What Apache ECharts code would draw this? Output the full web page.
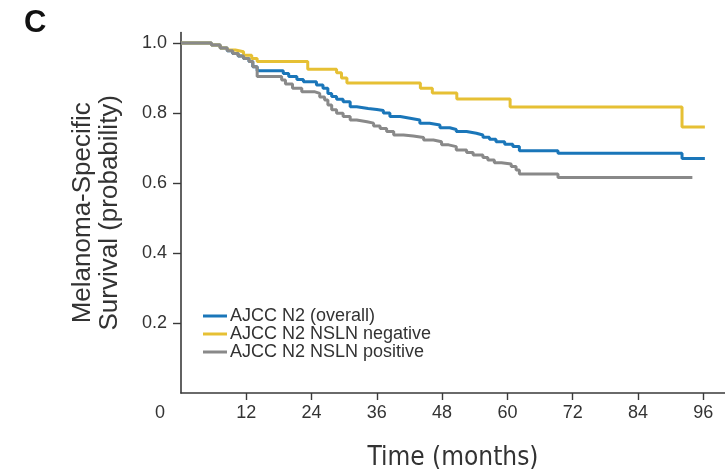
<!DOCTYPE html>
<html>
<head>
<meta charset="utf-8">
<script src="https://cdn.jsdelivr.net/npm/echarts@6/dist/echarts.min.js"></script>
<style>html,body{margin:0;padding:0;background:#fff}#c{width:725px;height:469px}</style>
</head>
<body>
<div id="c"></div>
<script>
// Kaplan-Meier step data (time in months, survival probability)
const tOverall = [0, 5.6, 7.2, 8.5, 9.5, 10.5, 11.5, 12.5, 13.2, 14, 18.8, 19.8, 21.3, 22.5, 24.9, 26.1, 27, 27.7, 28.6, 29.8, 31.1, 32.3, 34.4, 36, 37.2, 38.4, 40.3, 42.1, 43.9, 45.7, 47.6, 49.4, 50.6, 52.5, 54.3, 55.5, 56.7, 57.9, 59.5, 61, 62.2, 69.3, 92.1, 96.3];
const sOverall = [1.0, 0.994, 0.986, 0.978, 0.97, 0.963, 0.956, 0.947, 0.932, 0.921, 0.913, 0.904, 0.896, 0.889, 0.88, 0.871, 0.856, 0.847, 0.839, 0.832, 0.818, 0.813, 0.81, 0.807, 0.8, 0.79, 0.785, 0.78, 0.771, 0.766, 0.758, 0.753, 0.747, 0.742, 0.737, 0.731, 0.725, 0.718, 0.711, 0.704, 0.692, 0.685, 0.67, 0.67];

const tNeg = [0, 5.6, 7.2, 8.5, 10, 11.5, 13, 14, 23.3, 28.6, 29.5, 30.5, 44, 46.2, 50.7, 60.5, 92.1, 96.3];
const sNeg = [1.0, 0.994, 0.986, 0.98, 0.975, 0.965, 0.956, 0.947, 0.925, 0.915, 0.9, 0.886, 0.871, 0.857, 0.84, 0.817, 0.76, 0.76];

const tPos = [0, 5.6, 7.2, 8.5, 9.5, 10.5, 11.5, 12.5, 13.2, 14, 18.5, 19.2, 20.5, 22.2, 24.5, 25.5, 26.4, 27, 27.7, 28.6, 29.8, 31.1, 32.3, 34.2, 35.4, 36.6, 37.8, 39.1, 40.9, 42.7, 44.6, 46.4, 47.9, 49.2, 50.6, 52.5, 53.7, 55.5, 56.4, 57.6, 58.9, 60.7, 61.6, 62.2, 69.3, 94];
const sPos = [1.0, 0.994, 0.986, 0.978, 0.97, 0.963, 0.956, 0.947, 0.932, 0.904, 0.894, 0.883, 0.871, 0.861, 0.856, 0.846, 0.837, 0.823, 0.809, 0.799, 0.79, 0.78, 0.775, 0.771, 0.763, 0.756, 0.747, 0.737, 0.734, 0.73, 0.723, 0.718, 0.709, 0.704, 0.694, 0.687, 0.68, 0.673, 0.666, 0.658, 0.654, 0.647, 0.637, 0.626, 0.616, 0.616];

const seriesNames = ['AJCC N2 (overall)', 'AJCC N2 NSLN negative', 'AJCC N2 NSLN positive'];
const xTicks = [12, 24, 36, 48, 60, 72, 84, 96];
const yTicks = [0.2, 0.4, 0.6, 0.8, 1.0];

const zip = (t, s) => t.map((v, i) => [v, s[i]]);
const colors = ['#1a76b9', '#e6c034', '#898989'];
const axisColor = '#3a3a3a';
const textColor = '#333333';

const chart = echarts.init(document.getElementById('c'), null, {renderer: 'canvas'});
const mk = (name, data, color) => ({
  name, type: 'line', step: 'end', data, showSymbol: false, symbol: 'none',
  lineStyle: {color, width: 3}, itemStyle: {color}, animation: false
});
chart.setOption({
  animation: false,
  backgroundColor: '#fff',
  textStyle: {fontFamily: 'Liberation Sans, Arial, sans-serif'},
  grid: {left: 181, right: 0, top: 32.5, bottom: 76, containLabel: false, outerBoundsMode: 'none'},
  xAxis: {
    type: 'value', min: 0, max: 100,
    name: 'Time (months)', nameLocation: 'middle', nameGap: 52,
    nameTextStyle: {fontSize: 26, color: textColor, fontFamily: 'Liberation Sans Narrow, DejaVu Sans Condensed, Liberation Sans, sans-serif'},
    splitLine: {show: false},
    axisLine: {show: true, onZero: false, lineStyle: {color: axisColor, width: 1.6}},
    axisTick: {show: true, length: 7, customValues: xTicks, lineStyle: {color: axisColor, width: 1.4}},
    axisLabel: {customValues: xTicks, margin: 11, fontSize: 18, color: textColor}
  },
  yAxis: {
    type: 'value', min: 0, max: 1.03,
    name: 'Melanoma-Specific\nSurvival (probability)', nameLocation: 'middle', nameGap: 58, nameRotate: 90,
    nameTextStyle: {fontSize: 26, lineHeight: 27, color: textColor},
    splitLine: {show: false},
    axisLine: {show: true, onZero: false, lineStyle: {color: axisColor, width: 1.6}},
    axisTick: {show: true, length: 8, customValues: yTicks, lineStyle: {color: axisColor, width: 1.4}},
    axisLabel: {customValues: yTicks, margin: 14, fontSize: 18, color: textColor, formatter: v => v.toFixed(1)}
  },
  legend: {
    orient: 'vertical', left: 203, top: 307, icon: 'rect', itemWidth: 24, itemHeight: 3,
    itemGap: 0, data: seriesNames,
    textStyle: {fontSize: 18, lineHeight: 17.5, color: textColor, padding: [0, 0, 0, -2]},
    padding: 0
  },
  graphic: [
    {type: 'text', left: 24, top: 8, style: {text: 'C', fontSize: 31, fontWeight: 'bold', fill: '#111', fontFamily: 'Liberation Sans, Arial, sans-serif'}},
    {type: 'text', x: 160, y: 413, style: {text: '0', fontSize: 18, fill: textColor, align: 'center', verticalAlign: 'middle', fontFamily: 'Liberation Sans, Arial, sans-serif'}}
  ],
  series: [
    mk(seriesNames[0], zip(tOverall, sOverall), colors[0]),
    mk(seriesNames[1], zip(tNeg, sNeg), colors[1]),
    mk(seriesNames[2], zip(tPos, sPos), colors[2])
  ]
});
</script>
</body>
</html>
